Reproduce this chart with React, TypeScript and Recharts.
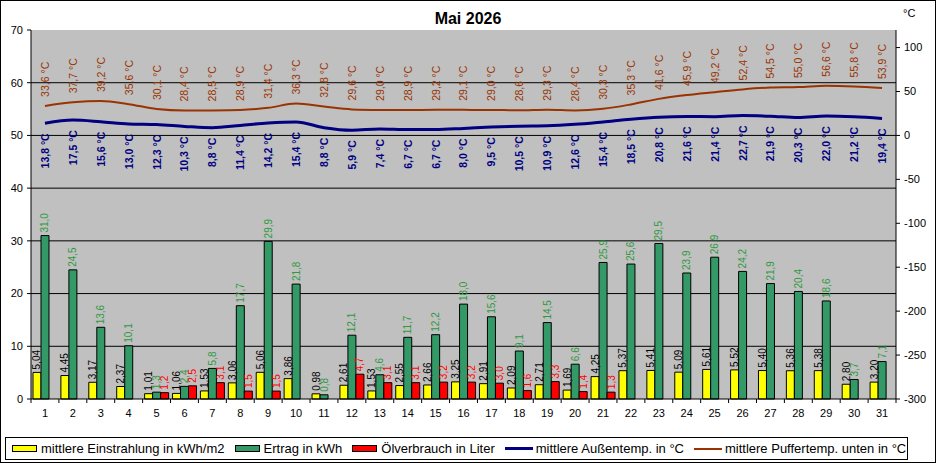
import React from "react";
import {
  ComposedChart,
  Bar,
  Line,
  XAxis,
  YAxis,
  CartesianGrid,
  LabelList,
} from "recharts";

const days = [
  "1", "2", "3", "4", "5", "6", "7", "8", "9", "10", "11", "12", "13", "14", "15", "16",
  "17", "18", "19", "20", "21", "22", "23", "24", "25", "26", "27", "28", "29", "30", "31",
];

// kWh/m2
const einstrahlung = [
  5.04, 4.45, 3.17, 2.37, 1.01, 1.06, 1.53, 3.06, 5.06, 3.86, 0.98, 2.61, 1.53, 2.55, 2.66, 3.25,
  2.91, 2.09, 2.71, 1.69, 4.25, 5.37, 5.41, 5.09, 5.61, 5.52, 5.4, 5.36, 5.38, 2.8, 3.2,
];

// kWh
const ertrag = [
  31.0, 24.5, 13.6, 10.1, 1.3, 2.4, 5.8, 17.7, 29.9, 21.8, 0.8, 12.1, 4.6, 11.7, 12.2, 18.0,
  15.6, 9.1, 14.5, 6.6, 25.9, 25.6, 29.5, 23.9, 26.9, 24.2, 21.9, 20.4, 18.6, 3.7, 7.1,
];

// Liter
const oelverbrauch = [
  0.0, 0.0, 0.0, 0.0, 1.2, 2.5, 3.1, 1.5, 1.5, 0.0, 0.0, 4.7, 3.1, 3.1, 3.2, 3.2,
  3.0, 1.6, 3.3, 1.4, 1.3, 0.0, 0.0, 0.0, 0.0, 0.0, 0.0, 0.0, 0.0, 0.0, 0.0,
];

// °C
const aussentemp = [
  13.8, 17.5, 15.6, 13.0, 12.3, 10.3, 8.8, 11.4, 14.2, 15.4, 8.8, 5.9, 7.4, 6.7, 6.7, 8.0,
  9.5, 10.5, 10.9, 12.6, 15.4, 18.5, 20.8, 21.6, 21.4, 22.7, 21.9, 20.3, 22.0, 21.2, 19.4,
];

const puffertemp = [
  33.6, 37.7, 39.2, 35.6, 30.1, 28.4, 28.5, 28.9, 31.4, 36.3, 32.8, 29.6, 29.0, 28.9, 29.2, 29.1,
  29.0, 28.6, 29.3, 28.4, 30.3, 35.3, 41.6, 45.9, 49.2, 52.4, 54.5, 55.0, 56.6, 55.8, 53.9,
];

const leftTicks = [0, 10, 20, 30, 40, 50, 60, 70];
const gridValues = [10, 20, 30, 40, 50, 60];
const rightTicks = [-300, -250, -200, -150, -100, -50, 0, 50, 100];

const chartData = days.map((day, i) => ({
  day,
  einstrahlung: einstrahlung[i],
  ertrag: ertrag[i],
  oel: oelverbrauch[i],
  aussen: aussentemp[i],
  puffer: puffertemp[i],
}));

const FONT = '"Liberation Sans", Arial, sans-serif';
const YELLOW = "#FFFF00";
const GREEN = "#339966";
const RED = "#FF0000";
const NAVY = "#000080";
const BROWN = "#993300";

const fmt = (v: number, digits: number) => v.toFixed(digits).replace(".", ",");

const barLabel = (color: string, digits: number) => (props: any) => {
  const { x, y, width, value } = props;
  if (value == null) return null;
  const cx = Number(x) + Number(width) / 2;
  const ty = Number(y) - 3;
  return (
    <text
      x={cx}
      y={ty}
      transform={`rotate(-90, ${cx}, ${ty})`}
      textAnchor="start"
      dominantBaseline="central"
      fill={color}
      fontSize={10}
      fontFamily={FONT}
    >
      {fmt(Number(value), digits)}
    </text>
  );
};

const tempLabel = (color: string, above: boolean, bold: boolean) => (props: any) => {
  const { x, y, value } = props;
  if (value == null) return null;
  const ty = above ? Number(y) - 9 : Number(y) + 10;
  return (
    <text
      x={x}
      y={ty}
      transform={`rotate(-90, ${x}, ${ty})`}
      textAnchor={above ? "start" : "end"}
      dominantBaseline="central"
      fill={color}
      fontSize={10.5}
      fontWeight={bold ? "bold" : "normal"}
      fontFamily={FONT}
    >
      {fmt(Number(value), 1)} °C
    </text>
  );
};

// category labels in the middle, tick marks between the days
const DayTick = (props: any) => {
  const { x, y, payload, index } = props;
  const half = payload?.offset ?? 865 / 62;
  return (
    <g>
      <line x1={x - half} y1={y - 4} x2={x - half} y2={y} stroke="#000" />
      {index === days.length - 1 && (
        <line x1={x + half} y1={y - 4} x2={x + half} y2={y} stroke="#000" />
      )}
      <text x={x} y={y + 14} textAnchor="middle" fontSize={11} fontFamily={FONT} fill="#000">
        {payload.value}
      </text>
    </g>
  );
};

const legendItems = [
  { label: "mittlere Einstrahlung in kWh/m2", color: YELLOW, kind: "bar" },
  { label: "Ertrag in kWh", color: GREEN, kind: "bar" },
  { label: "Ölverbrauch in Liter", color: RED, kind: "bar" },
  { label: "mittlere Außentemp. in °C", color: NAVY, kind: "line3" },
  { label: "mittlere Puffertemp. unten in °C", color: BROWN, kind: "line2" },
];

const App = () => {
  return (
    <div style={{ position: "relative", width: 936, height: 463, background: "#fff", fontFamily: FONT }}>
      <style>{"body{margin:0}"}</style>
      <ComposedChart
        width={936}
        height={463}
        data={chartData}
        margin={{ top: 30, right: 0, left: 0, bottom: 40 }}
        barCategoryGap={2}
        barGap={0}
      >
        <CartesianGrid
          yAxisId="left"
          vertical={false}
          stroke="#000"
          fill="#C0C0C0"
          fillOpacity={1}
          horizontalValues={gridValues}
        />
        <XAxis
          dataKey="day"
          interval={0}
          height={24}
          tickSize={4}
          tickMargin={0}
          tickLine={{ stroke: "none" }}
          axisLine={{ stroke: "#000" }}
          tick={<DayTick />}
        />
        <YAxis
          yAxisId="left"
          width={31}
          domain={[0, 70]}
          ticks={leftTicks}
          interval={0}
          tickSize={4}
          tickMargin={4}
          tick={{ fill: "#000", fontSize: 11, fontFamily: FONT }}
          tickLine={{ stroke: "#000" }}
          axisLine={{ stroke: "#000" }}
        />
        <YAxis
          yAxisId="right"
          orientation="right"
          width={40}
          domain={[-300, 120]}
          ticks={rightTicks}
          interval={0}
          tickSize={4}
          tickMargin={4}
          tick={{ fill: "#000", fontSize: 11, fontFamily: FONT, textAnchor: "start" }}
          tickLine={{ stroke: "#000" }}
          axisLine={{ stroke: "#000" }}
        />
        <Bar yAxisId="left" dataKey="einstrahlung" fill={YELLOW} stroke="#000" strokeWidth={1} isAnimationActive={false}>
          <LabelList dataKey="einstrahlung" content={barLabel("#000", 2)} />
        </Bar>
        <Bar yAxisId="left" dataKey="ertrag" fill={GREEN} stroke="#000" strokeWidth={1} isAnimationActive={false}>
          <LabelList dataKey="ertrag" content={barLabel("#2E9A3E", 1)} />
        </Bar>
        <Bar yAxisId="left" dataKey="oel" fill={RED} stroke="#000" strokeWidth={1} isAnimationActive={false}>
          <LabelList dataKey="oel" content={barLabel(RED, 1)} />
        </Bar>
        <Line
          yAxisId="right"
          type="monotone"
          dataKey="aussen"
          stroke={NAVY}
          strokeWidth={3}
          dot={false}
          activeDot={false}
          isAnimationActive={false}
        >
          <LabelList dataKey="aussen" content={tempLabel(NAVY, false, true)} />
        </Line>
        <Line
          yAxisId="right"
          type="monotone"
          dataKey="puffer"
          stroke={BROWN}
          strokeWidth={2}
          dot={false}
          activeDot={false}
          isAnimationActive={false}
        >
          <LabelList dataKey="puffer" content={tempLabel(BROWN, true, false)} />
        </Line>
      </ComposedChart>

      <div
        style={{
          position: "absolute",
          left: 0,
          top: 10,
          width: 936,
          textAlign: "center",
          fontSize: 16,
          fontWeight: "bold",
          lineHeight: "18px",
        }}
      >
        Mai 2026
      </div>
      <div style={{ position: "absolute", left: 903, top: 7, fontSize: 11 }}>°C</div>

      <div
        style={{
          position: "absolute",
          left: 5,
          top: 437,
          width: 903,
          height: 23,
          boxSizing: "border-box",
          border: "1px solid #000",
          background: "#fff",
          display: "flex",
          alignItems: "center",
          paddingLeft: 6,
          fontSize: 13,
          whiteSpace: "nowrap",
        }}
      >
        {legendItems.map((item) => (
          <div key={item.label} style={{ display: "flex", alignItems: "center", marginRight: 10 }}>
            {item.kind === "bar" ? (
              <span
                style={{
                  display: "inline-block",
                  width: 25,
                  height: 7,
                  boxSizing: "border-box",
                  background: item.color,
                  border: "1px solid #000",
                  marginRight: 4,
                }}
              />
            ) : (
              <span
                style={{
                  display: "inline-block",
                  width: 28,
                  height: item.kind === "line3" ? 3 : 2,
                  background: item.color,
                  marginRight: 3,
                }}
              />
            )}
            <span>{item.label}</span>
          </div>
        ))}
      </div>

      <div
        style={{
          position: "absolute",
          left: 0,
          top: 0,
          width: 936,
          height: 463,
          boxSizing: "border-box",
          border: "1px solid #000",
          pointerEvents: "none",
        }}
      />
    </div>
  );
};

export default App;
